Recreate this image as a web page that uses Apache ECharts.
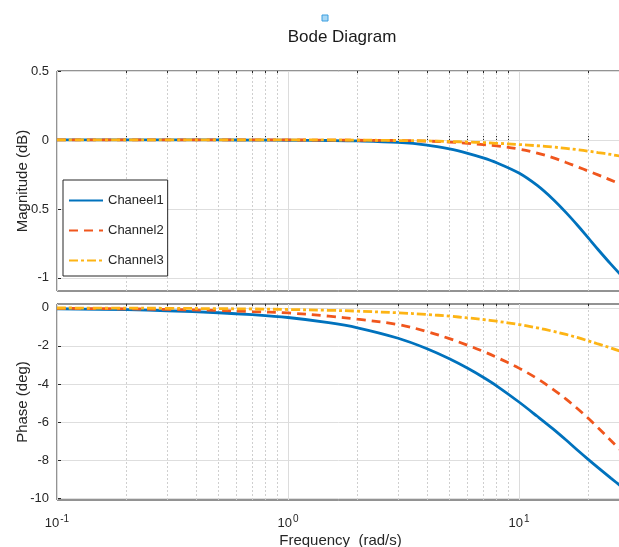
<!DOCTYPE html>
<html><head><meta charset="utf-8">
<script src="https://cdn.jsdelivr.net/npm/echarts@6/dist/echarts.min.js"></script>
<style>html,body{margin:0;padding:0;background:#fff}#c{width:619px;height:547px}</style>
</head><body><div id="c"></div>
<script>
const seriesNames = ['Chaneel1', 'Channel2', 'Channel3'];
const freq = [0.1,0.2,0.3,0.5,0.7,1,1.5,2,3,4,5,6,7,8,10,12,14,16,18,20,22,25,28.5];
const magCh1 = [0,0,0,0,-0.001,-0.002,-0.004,-0.007,-0.018,-0.037,-0.065,-0.097,-0.13,-0.165,-0.24,-0.33,-0.428,-0.527,-0.622,-0.712,-0.794,-0.9,-1.003];
const magCh2 = [0,0,0,0,0,0,-0.001,-0.002,-0.004,-0.008,-0.015,-0.024,-0.034,-0.043,-0.066,-0.095,-0.128,-0.163,-0.196,-0.226,-0.253,-0.291,-0.33];
const magCh3 = [0,0,0,0,0,0,0,-0.001,-0.004,-0.007,-0.011,-0.015,-0.019,-0.024,-0.033,-0.042,-0.051,-0.061,-0.071,-0.081,-0.091,-0.105,-0.122];
const phaseCh1 = [-0.05,-0.1,-0.155,-0.26,-0.36,-0.51,-0.78,-1.05,-1.6,-2.15,-2.68,-3.18,-3.65,-4.1,-4.95,-5.7,-6.35,-6.95,-7.5,-7.98,-8.4,-8.95,-9.5];
const phaseCh2 = [-0.028,-0.055,-0.085,-0.14,-0.2,-0.27,-0.44,-0.6,-0.88,-1.25,-1.62,-1.97,-2.29,-2.6,-3.17,-3.72,-4.27,-4.8,-5.32,-5.82,-6.3,-6.97,-7.66];
const phaseCh3 = [-0.01,-0.018,-0.027,-0.045,-0.062,-0.088,-0.13,-0.175,-0.262,-0.35,-0.44,-0.53,-0.615,-0.705,-0.88,-1.055,-1.23,-1.4,-1.57,-1.74,-1.9,-2.11,-2.35];
const xMajorTicks = [0.1, 1, 10];
const xMinorTicks = [0.2,0.3,0.4,0.5,0.6,0.7,0.8,0.9,2,3,4,5,6,7,8,9,20];
const magTicks = [-1, -0.5, 0, 0.5];
const phaseTicks = [-10, -8, -6, -4, -2, 0];

const FONT = '"Liberation Sans", Arial, sans-serif';
const TXT = '#262626';
const colors = ['#0072BD', '#F0561D', '#FDB414'];
const lineTypes = ['solid', [9, 6], [9, 3, 3, 3]];

const pairs = arr => freq.map((f, i) => [f, arr[i]]);

function vGridLines() {
  return {
    silent: true, symbol: 'none', z: 1, label: {show: false}, animation: false,
    emphasis: {disabled: true},
    data: xMajorTicks.map(v => ({xAxis: v, lineStyle: {color: '#dcdcdc', type: 'solid', width: 1}}))
      .concat(xMinorTicks.map(v => ({xAxis: v, lineStyle: {color: '#cfcfcf', type: [2, 2], width: 1}})))
  };
}

function mkSeries(name, arr, idx, axisIdx, withGrid) {
  const s = {
    name, type: 'line', data: pairs(arr), xAxisIndex: axisIdx, yAxisIndex: axisIdx / 2,
    showSymbol: false, symbol: 'none', smooth: 0.35,
    lineStyle: {color: colors[idx], width: 2.8, type: lineTypes[idx]},
    itemStyle: {color: colors[idx]}, z: 3 + idx, animation: false
  };
  if (withGrid) s.markLine = vGridLines();
  return s;
}

const logLabel = v => {
  const e = Math.log10(v);
  if (Math.abs(e - Math.round(e)) > 1e-6) return '';
  return '{b|10}{s|' + Math.round(e) + '}';
};

function xAxisDef(gridIndex, position, showLabels) {
  const a = {
    type: 'log', logBase: 10, gridIndex, position, min: 0.1, max: 28.5,
    axisLine: {show: false},
    axisTick: {show: true, inside: true, length: 4, customValues: xMajorTicks.concat(xMinorTicks), lineStyle: {color: TXT}},
    splitLine: {show: false},
    minorTick: {show: false}, minorSplitLine: {show: false},
    axisLabel: {show: false}
  };
  if (showLabels) {
    a.axisLabel = {
      show: true, margin: 14, formatter: logLabel, color: TXT, fontFamily: FONT,
      rich: {b: {fontSize: 13, color: TXT, fontFamily: FONT}, s: {fontSize: 10, color: TXT, fontFamily: FONT, padding: [0, 0, 9, 1]}}
    };
    a.name = 'Frequency  (rad/s)';
    a.nameLocation = 'middle';
    a.nameGap = 33;
    a.nameTextStyle = {fontSize: 15, color: TXT, fontFamily: FONT};
  }
  return a;
}

function yAxisDef(gridIndex, min, max, ticks, name) {
  return {
    type: 'value', gridIndex, min, max,
    name, nameLocation: 'middle', nameGap: 27, nameRotate: 90, nameMoveOverlap: false,
    nameTextStyle: {fontSize: 15, color: TXT, fontFamily: FONT},
    axisLine: {show: false},
    axisTick: {show: true, inside: true, length: 4, customValues: ticks, lineStyle: {color: TXT}},
    axisLabel: {customValues: ticks, fontSize: 13, color: TXT, fontFamily: FONT, margin: 8},
    splitLine: {show: true, lineStyle: {color: '#dedede', width: 1}}
  };
}

const gridBase = {left: 57, right: -5, show: true, borderColor: TXT, borderWidth: 1, backgroundColor: '#fff', containLabel: false, outerBoundsMode: 'none'};

const chart = echarts.init(document.getElementById('c'), null, {renderer: 'canvas'});
chart.setOption({
  animation: false,
  backgroundColor: '#fff',
  textStyle: {fontFamily: FONT},
  graphic: [
    {type: 'rect', shape: {x: 322, y: 15, width: 6, height: 6}, style: {fill: '#a8d8f5', stroke: '#3a9ee0', lineWidth: 1}},
    {type: 'text', x: 342, y: 37, style: {text: 'Bode Diagram', fontSize: 17, fill: '#1a1a1a', fontFamily: FONT, textAlign: 'center', textVerticalAlign: 'middle'}}
  ],
  grid: [
    Object.assign({top: 71, height: 220}, gridBase),
    Object.assign({top: 304, height: 196}, gridBase)
  ],
  xAxis: [xAxisDef(0, 'bottom', false), xAxisDef(0, 'top', false), xAxisDef(1, 'bottom', true), xAxisDef(1, 'top', false)],
  yAxis: [yAxisDef(0, -1.095, 0.5, magTicks, 'Magnitude (dB)'), yAxisDef(1, -10.1, 0.2, phaseTicks, 'Phase (deg)')],
  legend: {
    data: seriesNames, orient: 'vertical', left: 63, top: 180,
    itemWidth: 34, itemHeight: 14, itemGap: 17,
    padding: [14, 4, 9, 5],
    backgroundColor: '#fff', borderColor: TXT, borderWidth: 1, borderRadius: 0,
    itemStyle: {color: 'rgba(0,0,0,0)', borderColor: 'rgba(0,0,0,0)', borderWidth: 0},
    textStyle: {fontSize: 13, color: TXT, fontFamily: FONT},
    selectedMode: false, z: 10
  },
  series: [
    mkSeries(seriesNames[0], magCh1, 0, 0, true),
    mkSeries(seriesNames[1], magCh2, 1, 0, false),
    mkSeries(seriesNames[2], magCh3, 2, 0, false),
    mkSeries(seriesNames[0], phaseCh1, 0, 2, true),
    mkSeries(seriesNames[1], phaseCh2, 1, 2, false),
    mkSeries(seriesNames[2], phaseCh3, 2, 2, false)
  ]
});
</script></body></html>
